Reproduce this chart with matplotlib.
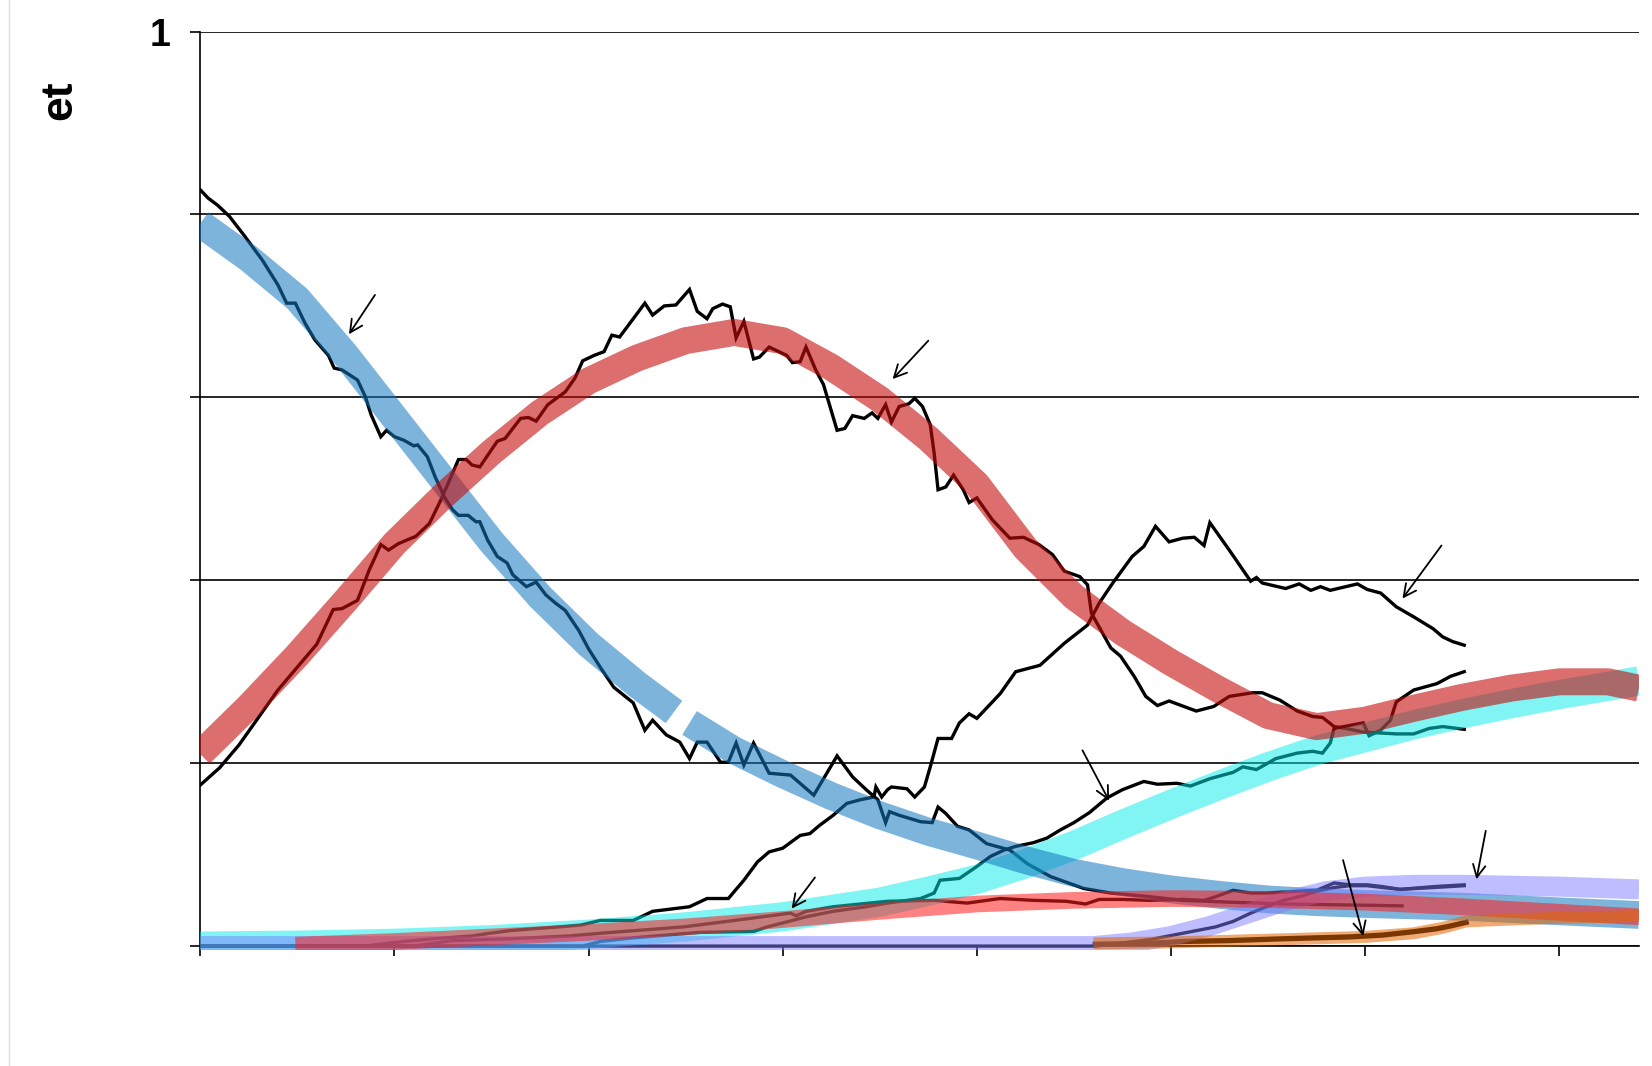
import matplotlib
matplotlib.use('Agg')
import matplotlib.pyplot as plt
from matplotlib.lines import Line2D
from matplotlib.patches import Rectangle

plt.rcParams['font.family'] = ['Liberation Sans', 'DejaVu Sans']

# ---------------- data ----------------
y_ticks = [0.0, 0.2, 0.4, 0.6, 0.8, 1.0]
y_tick_labels = ['', '', '', '', '', '1']
x_ticks = [0, 1, 2, 3, 4, 5, 6, 7]
y_label = 'et'

# model curves (thick translucent bands)
blue_x1 = [0, 0.25, 0.5, 0.75, 1.0, 1.25, 1.5, 1.75, 2.0, 2.25, 2.44]
blue_y1 = [0.790, 0.752, 0.708, 0.646, 0.578, 0.510, 0.442, 0.382, 0.330, 0.286, 0.256]
blue_x2 = [2.52, 2.75, 3.0, 3.25, 3.5, 3.75, 4.0, 4.25, 4.5, 4.75, 5.0, 5.25, 5.5, 5.75, 6.0, 6.5, 7.0, 7.41]
blue_y2 = [0.244, 0.214, 0.188, 0.164, 0.143, 0.125, 0.110, 0.094, 0.080, 0.070, 0.062, 0.056, 0.051,
           0.048, 0.046, 0.043, 0.038, 0.034]

red_x = [0, 0.25, 0.5, 0.75, 1.0, 1.25, 1.5, 1.75, 2.0, 2.25, 2.5, 2.75, 3.0, 3.25, 3.5, 3.75, 4.0,
         4.25, 4.5, 4.75, 5.0, 5.25, 5.5, 5.75, 6.0, 6.25, 6.5, 6.75, 7.0, 7.25, 7.41]
red_y = [0.210, 0.262, 0.318, 0.378, 0.440, 0.492, 0.540, 0.583, 0.618, 0.643, 0.662, 0.671, 0.662,
         0.633, 0.598, 0.555, 0.505, 0.435, 0.382, 0.343, 0.310, 0.280, 0.252, 0.240, 0.247, 0.260,
         0.272, 0.282, 0.289, 0.289, 0.282]

cyan_x = [0, 0.5, 1.0, 1.5, 2.0, 2.5, 3.0, 3.25, 3.5, 3.75, 4.0, 4.25, 4.5, 4.75, 5.0, 5.25, 5.5,
          5.75, 6.0, 6.25, 6.5, 6.75, 7.0, 7.25, 7.41]
cyan_y = [0.000, 0.001, 0.003, 0.007, 0.013, 0.021, 0.032, 0.040, 0.048, 0.060, 0.073, 0.090, 0.110,
          0.133, 0.155, 0.176, 0.196, 0.214, 0.228, 0.242, 0.254, 0.265, 0.275, 0.284, 0.290]

pink_x = [0.49, 1.0, 1.5, 2.0, 2.5, 3.0, 3.5, 4.0, 4.5, 5.0, 5.5, 6.0, 6.5, 7.0, 7.41]
pink_y = [0.001, 0.005, 0.010, 0.015, 0.021, 0.029, 0.038, 0.046, 0.050, 0.052, 0.051, 0.048, 0.043,
          0.037, 0.032]

lav_x = [0, 4.6, 4.8, 5.0, 5.2, 5.4, 5.6, 5.8, 6.0, 6.25, 6.5, 7.0, 7.41]
lav_y = [0.000, 0.000, 0.004, 0.011, 0.022, 0.036, 0.050, 0.060, 0.065, 0.067, 0.067, 0.065, 0.062]

orange_x = [4.6, 5.0, 5.5, 6.0, 6.25, 6.4, 6.52, 6.75, 7.0, 7.25, 7.41]
orange_y = [0.003, 0.004, 0.007, 0.010, 0.014, 0.020, 0.027, 0.029, 0.031, 0.032, 0.033]

# simulated trajectories (thin lines)
sim_a_x = [0, 0.04, 0.09, 0.15, 0.23, 0.32, 0.40, 0.445, 0.49, 0.54, 0.59, 0.66, 0.69, 0.73, 0.81,
           0.85, 0.88, 0.93, 0.96, 1.00, 1.05, 1.10, 1.12, 1.17, 1.21, 1.26, 1.30, 1.33, 1.38, 1.42,
           1.44, 1.48, 1.53, 1.58, 1.61, 1.68, 1.73, 1.78, 1.83, 1.88, 1.95, 2.00, 2.06, 2.13, 2.23,
           2.29, 2.33, 2.40, 2.47, 2.52, 2.56, 2.61, 2.68, 2.72, 2.76, 2.80, 2.85, 2.93, 3.04, 3.16,
           3.28, 3.36, 3.43, 3.49, 3.53, 3.55, 3.60, 3.71, 3.77, 3.80, 3.84, 3.90, 3.96, 4.05, 4.17,
           4.26, 4.38, 4.55, 4.69, 4.89, 5.06, 5.30, 5.60, 5.90, 6.19]
sim_a_y = [0.827, 0.818, 0.810, 0.798, 0.776, 0.750, 0.723, 0.703, 0.703, 0.681, 0.663, 0.646, 0.632,
           0.630, 0.619, 0.601, 0.581, 0.557, 0.564, 0.557, 0.553, 0.547, 0.548, 0.535, 0.513, 0.490,
           0.477, 0.471, 0.471, 0.464, 0.464, 0.444, 0.426, 0.419, 0.406, 0.393, 0.398, 0.384, 0.375,
           0.367, 0.345, 0.325, 0.305, 0.283, 0.266, 0.236, 0.247, 0.231, 0.223, 0.205, 0.223, 0.223,
           0.201, 0.201, 0.222, 0.198, 0.222, 0.189, 0.187, 0.165, 0.208, 0.185, 0.171, 0.160, 0.135,
           0.147, 0.143, 0.136, 0.135, 0.152, 0.145, 0.131, 0.127, 0.112, 0.105, 0.090, 0.076, 0.063,
           0.058, 0.054, 0.050, 0.048, 0.046, 0.045, 0.044]

sim_b_x = [0, 0.1, 0.2, 0.3, 0.4, 0.5, 0.6, 0.685, 0.73, 0.81, 0.87, 0.93, 0.97, 1.02, 1.11, 1.18,
           1.24, 1.33, 1.37, 1.40, 1.44, 1.53, 1.57, 1.65, 1.69, 1.73, 1.79, 1.88, 1.93, 1.97, 2.03,
           2.08, 2.12, 2.16, 2.29, 2.33, 2.39, 2.45, 2.52, 2.56, 2.61, 2.64, 2.69, 2.73, 2.76, 2.80,
           2.85, 2.88, 2.93, 2.99, 3.02, 3.05, 3.09, 3.12, 3.17, 3.21, 3.28, 3.32, 3.36, 3.42, 3.46,
           3.49, 3.53, 3.56, 3.60, 3.65, 3.68, 3.72, 3.76, 3.78, 3.80, 3.84, 3.88, 3.93, 3.96, 4.00,
           4.08, 4.17, 4.24, 4.32, 4.39, 4.45, 4.53, 4.57, 4.59, 4.69, 4.74, 4.81, 4.87, 4.93, 4.99,
           5.13, 5.22, 5.30, 5.42, 5.47, 5.56, 5.65, 5.73, 5.78, 5.84, 5.90, 5.99, 6.08, 6.16, 6.25,
           6.33, 6.40, 6.51]
sim_b_y = [0.176, 0.195, 0.220, 0.250, 0.280, 0.305, 0.330, 0.368, 0.369, 0.378, 0.411, 0.439, 0.433,
           0.440, 0.448, 0.462, 0.488, 0.532, 0.532, 0.526, 0.524, 0.552, 0.555, 0.577, 0.578, 0.574,
           0.592, 0.606, 0.621, 0.640, 0.646, 0.650, 0.668, 0.666, 0.703, 0.690, 0.700, 0.701, 0.718,
           0.694, 0.686, 0.697, 0.702, 0.699, 0.665, 0.683, 0.642, 0.644, 0.655, 0.649, 0.646, 0.638,
           0.639, 0.655, 0.630, 0.614, 0.564, 0.566, 0.580, 0.577, 0.583, 0.577, 0.592, 0.573, 0.590,
           0.593, 0.599, 0.590, 0.570, 0.539, 0.499, 0.502, 0.515, 0.499, 0.485, 0.490, 0.466, 0.446,
           0.447, 0.439, 0.428, 0.410, 0.404, 0.395, 0.364, 0.326, 0.317, 0.295, 0.273, 0.263, 0.268,
           0.257, 0.262, 0.273, 0.277, 0.277, 0.269, 0.257, 0.251, 0.250, 0.240, 0.238, 0.234, 0.233,
           0.232, 0.232, 0.238, 0.240, 0.237]

sim_c_x = [0, 0.85, 1.0, 1.2, 1.4, 1.49, 1.6, 1.72, 1.85, 1.96, 2.06, 2.23, 2.33, 2.52, 2.61, 2.72,
           2.80, 2.87, 2.93, 3.00, 3.09, 3.14, 3.19, 3.26, 3.33, 3.40, 3.47, 3.48, 3.51, 3.54, 3.56,
           3.64, 3.68, 3.73, 3.76, 3.80, 3.87, 3.91, 3.96, 4.00, 4.12, 4.20, 4.325, 4.45, 4.57, 4.63,
           4.70, 4.80, 4.86, 4.92, 4.99, 5.06, 5.12, 5.17, 5.20, 5.30, 5.41, 5.44, 5.47, 5.59, 5.66,
           5.72, 5.77, 5.82, 5.96, 6.01, 6.08, 6.16, 6.25, 6.35, 6.40, 6.45, 6.51]
sim_c_y = [0, 0, 0.004, 0.008, 0.011, 0.014, 0.017, 0.019, 0.021, 0.023, 0.028, 0.028, 0.038, 0.043,
           0.052, 0.052, 0.072, 0.092, 0.103, 0.107, 0.121, 0.123, 0.132, 0.143, 0.156, 0.160, 0.163,
           0.174, 0.163, 0.171, 0.174, 0.172, 0.163, 0.174, 0.196, 0.227, 0.227, 0.244, 0.254, 0.249,
           0.276, 0.300, 0.307, 0.331, 0.351, 0.375, 0.397, 0.426, 0.437, 0.459, 0.442, 0.446, 0.447,
           0.438, 0.463, 0.433, 0.399, 0.403, 0.397, 0.391, 0.396, 0.389, 0.393, 0.389, 0.396, 0.390,
           0.386, 0.371, 0.360, 0.347, 0.338, 0.333, 0.329]

sim_d_x = [0, 1.97, 2.06, 2.23, 2.40, 2.57, 2.85, 2.92, 3.05, 3.12, 3.26, 3.43, 3.54, 3.71, 3.78,
           3.81, 3.91, 4.00, 4.07, 4.14, 4.20, 4.29, 4.36, 4.43, 4.50, 4.58, 4.67, 4.75, 4.86, 4.93,
           5.03, 5.10, 5.20, 5.32, 5.37, 5.44, 5.54, 5.65, 5.73, 5.78, 5.82, 5.84, 5.89, 5.99, 6.02,
           6.08, 6.13, 6.16, 6.25, 6.37, 6.44, 6.51]
sim_d_y = [0, 0, 0.005, 0.009, 0.012, 0.015, 0.016, 0.021, 0.028, 0.032, 0.038, 0.043, 0.047, 0.052,
           0.058, 0.072, 0.074, 0.087, 0.098, 0.105, 0.109, 0.113, 0.118, 0.127, 0.135, 0.146, 0.162,
           0.171, 0.180, 0.177, 0.178, 0.175, 0.183, 0.190, 0.196, 0.193, 0.205, 0.211, 0.213, 0.211,
           0.222, 0.238, 0.240, 0.244, 0.230, 0.236, 0.247, 0.267, 0.280, 0.287, 0.295, 0.300]

sim_e_x = [0, 1.1, 1.3, 1.6, 1.9, 2.06, 2.49, 2.75, 3.04, 3.07, 3.12, 3.26, 3.54, 3.78, 3.95, 4.12,
           4.29, 4.46, 4.56, 4.63, 4.75, 4.89, 5.06, 5.17, 5.23, 5.32, 5.41, 5.49, 5.66, 5.75, 5.84,
           5.92, 6.01, 6.09, 6.18, 6.35, 6.51]
sim_e_y = [0, 0, 0.006, 0.008, 0.011, 0.014, 0.021, 0.028, 0.036, 0.033, 0.038, 0.043, 0.049, 0.050,
           0.047, 0.052, 0.050, 0.049, 0.046, 0.051, 0.051, 0.050, 0.051, 0.050, 0.054, 0.061, 0.058,
           0.058, 0.060, 0.061, 0.069, 0.067, 0.067, 0.065, 0.062, 0.065, 0.067]

sim_f_x = [0, 4.61, 4.89, 5.06, 5.23, 5.32, 5.41, 5.49, 5.58, 5.66, 5.75, 5.84, 5.92, 6.01, 6.09,
           6.18, 6.35, 6.51]
sim_f_y = [0, 0, 0.007, 0.014, 0.021, 0.027, 0.036, 0.043, 0.050, 0.054, 0.060, 0.064, 0.066, 0.066,
           0.064, 0.062, 0.064, 0.066]

sim_g_x = [4.61, 4.89, 5.06, 5.30, 5.58, 5.92, 6.09, 6.26, 6.37, 6.44, 6.52]
sim_g_y = [0.002, 0.003, 0.005, 0.006, 0.008, 0.010, 0.012, 0.016, 0.019, 0.022, 0.026]

# arrows: tail -> head
arrow_tail_x = [0.900, 3.750, 6.393, 3.166, 4.544, 5.886, 6.621]
arrow_tail_y = [0.712, 0.662, 0.438, 0.075, 0.214, 0.094, 0.126]
arrow_head_x = [0.766, 3.566, 6.192, 3.046, 4.681, 5.990, 6.573]
arrow_head_y = [0.669, 0.620, 0.380, 0.041, 0.159, 0.011, 0.073]

# ---------------- figure ----------------
fig = plt.figure(figsize=(16.52, 10.66), dpi=100)
fig.patch.set_facecolor('white')
ax = fig.add_axes([0.1212, 0.1125, 0.8709, 0.8579])
ax.set_xlim(0, 7.41)
ax.set_ylim(0, 1)

for s in ['top', 'right']:
    ax.spines[s].set_visible(False)
ax.spines['left'].set_linewidth(1.2)
ax.spines['bottom'].set_linewidth(1.2)
ax.spines['left'].set_zorder(1)
ax.spines['bottom'].set_zorder(1)

ax.set_yticks(y_ticks)
ax.set_yticklabels(y_tick_labels, fontsize=27, fontweight='bold')
ax.set_xticks(x_ticks)
ax.set_xticklabels([''] * len(x_ticks))
ax.tick_params(axis='both', direction='out', length=7.5, width=1.2, color='black')
ax.tick_params(axis='y', pad=14)
ax.yaxis.grid(True, color='black', linewidth=1.2)
ax.set_axisbelow(True)

# clip region reaching a few pixels below the x axis
clip_rect = Rectangle((0, -0.0045), 1.0, 1.02, transform=ax.transAxes)


def draw(x, y, **kw):
    ln, = ax.plot(x, y, **kw)
    ln.set_clip_path(clip_rect)
    return ln


# thin simulated lines (under the translucent bands)
thin = dict(color='black', linewidth=2.4, zorder=2, solid_joinstyle='miter')
draw(sim_a_x, sim_a_y, **thin)
draw(sim_b_x, sim_b_y, **thin)
draw(sim_c_x, sim_c_y, **thin)
draw(sim_d_x, sim_d_y, **thin)
draw(sim_e_x, sim_e_y, **thin)
draw(sim_f_x, sim_f_y, **thin)
draw(sim_g_x, sim_g_y, color='black', linewidth=3.8, zorder=2)

band = dict(solid_capstyle='butt', solid_joinstyle='round')
draw(cyan_x, cyan_y, color='#05ebeb', alpha=0.5, linewidth=21.0, zorder=3, **band)
draw(blue_x1, blue_y1, color='#1377bf', alpha=0.55, linewidth=20.0, zorder=3.1, **band)
draw(blue_x2, blue_y2, color='#1377bf', alpha=0.55, linewidth=20.0, zorder=3.1, **band)
draw(red_x, red_y, color='#c50d0d', alpha=0.6, linewidth=19.4, zorder=3.2, **band)
draw(lav_x, lav_y, color='#7d7dff', alpha=0.5, linewidth=14.4, zorder=3.3, **band)
draw(pink_x, pink_y, color='#ff1c1c', alpha=0.55, linewidth=12.0, zorder=3.4, **band)
draw(orange_x, orange_y, color='#e46400', alpha=0.55, linewidth=8.6, zorder=3.5, **band)

for tx, ty, hx, hy in zip(arrow_tail_x, arrow_tail_y, arrow_head_x, arrow_head_y):
    ax.annotate('', xy=(hx, hy), xytext=(tx, ty),
                arrowprops=dict(arrowstyle='->,head_length=0.9,head_width=0.45',
                                color='black', lw=1.3, shrinkA=0, shrinkB=0,
                                mutation_scale=10),
                zorder=5, annotation_clip=False)

fig.text(0.0363, 0.906, y_label, rotation=90, fontsize=32, fontweight='bold',
         ha='center', va='center')

# light frame line at the left edge of the picture
fig.add_artist(Line2D([8.8 / 1652, 8.8 / 1652], [0.0, 1.0], transform=fig.transFigure,
                      color='#dddddd', linewidth=1.0))

fig.savefig('out.png', dpi=100, facecolor='white')
